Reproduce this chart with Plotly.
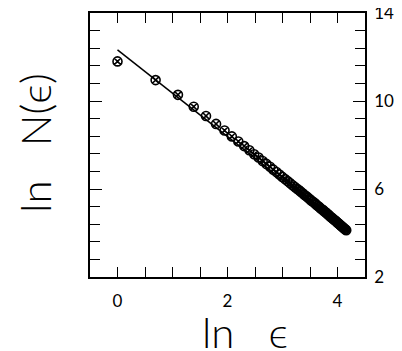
import plotly.graph_objects as go

ln_eps = [0.000, 0.693, 1.099, 1.386, 1.609, 1.792, 1.946, 2.079, 2.197, 2.303,
          2.398, 2.485, 2.565, 2.639, 2.708, 2.773, 2.833, 2.890, 2.944, 2.996,
          3.045, 3.091, 3.135, 3.178, 3.219, 3.258, 3.296, 3.332, 3.367, 3.401,
          3.434, 3.466, 3.497, 3.526, 3.555, 3.584, 3.611, 3.638, 3.664, 3.689,
          3.714, 3.738, 3.761, 3.784, 3.807, 3.829, 3.850, 3.871, 3.892, 3.912,
          3.932, 3.951, 3.970, 3.989, 4.007, 4.025, 4.043, 4.060, 4.078, 4.094,
          4.111, 4.127, 4.143, 4.159]
ln_N = [11.80, 10.95, 10.28, 9.74, 9.32, 8.96, 8.66, 8.39, 8.16, 7.95,
        7.76, 7.58, 7.43, 7.27, 7.14, 7.01, 6.88, 6.77, 6.66, 6.55,
        6.45, 6.36, 6.27, 6.18, 6.10, 6.02, 5.95, 5.88, 5.81, 5.73,
        5.67, 5.60, 5.53, 5.47, 5.42, 5.36, 5.30, 5.24, 5.19, 5.13,
        5.08, 5.04, 4.98, 4.94, 4.89, 4.84, 4.80, 4.74, 4.70, 4.66,
        4.61, 4.58, 4.54, 4.49, 4.46, 4.42, 4.38, 4.34, 4.30, 4.27,
        4.23, 4.19, 4.16, 4.13]
fit_x = [0.0, 4.16]
fit_y = [12.32, 4.13]

x_ticks = [0, 2, 4]
y_ticks = [2, 6, 10, 14]

fig = go.Figure()
fig.add_trace(go.Scatter(x=fit_x, y=fit_y, mode="lines",
                         line=dict(color="black", width=1.5), showlegend=False))
fig.add_trace(go.Scatter(x=ln_eps, y=ln_N, mode="markers",
                         marker=dict(symbol="circle-x-open", size=9,
                                     color="black", line=dict(width=1.6)),
                         showlegend=False))

# the page has an 8px body margin, so the figure is offset by 8px
tickfont = dict(family="Lato", size=17, color="black", weight=400)
fig.update_layout(
    width=402, height=351,
    margin=dict(l=82, r=45, t=5, b=82),
    paper_bgcolor="white", plot_bgcolor="white",
    xaxis=dict(range=[-0.5, 4.5], tickvals=x_ticks, ticktext=[str(v) for v in x_ticks],
               ticks="inside", ticklen=10, tickwidth=1.2, tickcolor="black",
               minor=dict(dtick=0.5, tick0=0, ticks="inside", ticklen=10,
                          tickwidth=1.2, tickcolor="black"),
               showline=True, linecolor="black", linewidth=1.5, mirror="ticks",
               showgrid=False, zeroline=False, tickfont=tickfont,
               ticklabelstandoff=8, automargin=False, ticklabeloverflow="allow"),
    yaxis=dict(range=[2, 14], side="right", tickvals=y_ticks,
               ticktext=[str(v) for v in y_ticks],
               ticks="inside", ticklen=12, tickwidth=1.2, tickcolor="black",
               minor=dict(dtick=0.8, tick0=2, ticks="inside", ticklen=10,
                          tickwidth=1.2, tickcolor="black"),
               showline=True, linecolor="black", linewidth=1.5, mirror="ticks",
               showgrid=False, zeroline=False, tickfont=tickfont,
               ticklabelstandoff=4, automargin=False, ticklabeloverflow="allow"),
)
labfont = dict(family="Lato", size=42, color="black", weight=300)
fig.add_annotation(text="ln   N(ϵ)", xref="paper", yref="paper",
                   x=-0.2, y=0.508, textangle=-90, showarrow=False,
                   font=labfont, xanchor="center", yanchor="middle")
fig.add_annotation(text="ln   ϵ", xref="paper", yref="paper",
                   x=0.564, y=-0.208, showarrow=False,
                   font=labfont, xanchor="center", yanchor="middle")
fig.write_html("out.html")
